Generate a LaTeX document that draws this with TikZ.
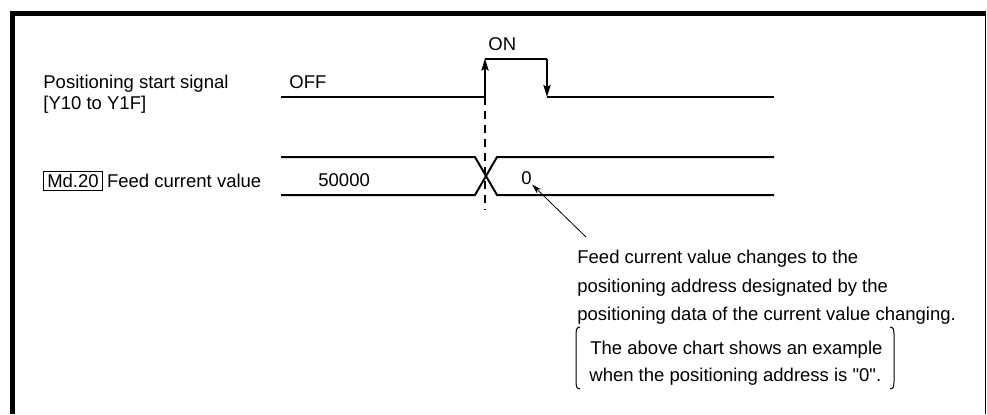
\documentclass[tikz,border=0pt]{standalone}
\usepackage{fontspec}
\setmainfont{Liberation Sans}[Ligatures=TeXOff]
\usetikzlibrary{arrows.meta,positioning}

\begin{document}
\begin{tikzpicture}[x=0.5pt, y=-0.5pt,
    txt/.style={font=\fontsize{9.25}{11}\selectfont, inner sep=0pt, anchor=base west},
    sig/.style={line width=1pt},
    edge/.style={sig, -{Stealth[length=6pt, width=3.6pt, inset=1pt]}},
    mdbox/.style={draw, line width=0.5pt, font=\fontsize{9.25}{11}\selectfont, inner xsep=1.9pt, inner ysep=0pt, minimum height=9.5pt, anchor=west},
    note/.style={line width=0.4pt, -{Stealth[length=5pt, width=3pt]}}
]
\useasboundingbox (0,0) rectangle (987,414);

% Frame
\draw[line width=2.5pt] (12.5,414) -- (12.5,13.5) -- (986,13.5);
\draw[line width=0.5pt] (985.5,13.5) -- (985.5,414);

% Signal names
\node[txt] (sname) at (43,88) {Positioning start signal};
\node[txt] (saddr) at (43,109) {[Y10 to Y1F]};
\node[mdbox] (md) at (43,181) {Md.20};
\node[txt, anchor=west, right=1.8pt of md] (fcv) {Feed current value};

% Start signal
\node[txt] (off) at (289,88) {OFF};
\node[txt] (on) at (488,50) {ON};
\draw[sig] (281,97) -- (485,97);
\draw[edge] (485,97) -- (485,58.5);
\draw[sig] (485,58.5) -- (547,58.5);
\draw[edge] (547,58.5) -- (547,97);
\draw[sig] (547,97) -- (774,97);

% Feed current value
\node[txt] (old) at (318,186) {50000};
\node[txt] (new) at (521,184) {0};
\draw[sig] (281,157) -- (475,157) -- (497,195) -- (774,195);
\draw[sig] (281,195) -- (475,195) -- (497,157) -- (774,157);
\draw[line width=0.65pt, dash pattern=on 4pt off 3pt] (485,97) -- (485,210);

% Note
\node[txt] (n1) at (577,263.5) {Feed current value changes to the};
\node[txt] (n2) at (577,292) {positioning address designated by the};
\node[txt] (n3) at (577,320) {positioning data of the current value changing.};
\node[txt] (n4) at (590,354) {The above chart shows an example};
\node[txt] (n5) at (589,381) {when the positioning address is "0".};
\draw[line width=0.5pt] (580,327) .. controls (576.5,328) .. (576,334) -- (576,382) .. controls (576.5,388) .. (580,389);
\draw[line width=0.5pt] (890,327) .. controls (893.5,328) .. (894,334) -- (894,382) .. controls (893.5,388) .. (890,389);
\coordinate (ns) at (586,237);
\draw[note] (ns) -- (new.south east);

\end{tikzpicture}
\end{document}
